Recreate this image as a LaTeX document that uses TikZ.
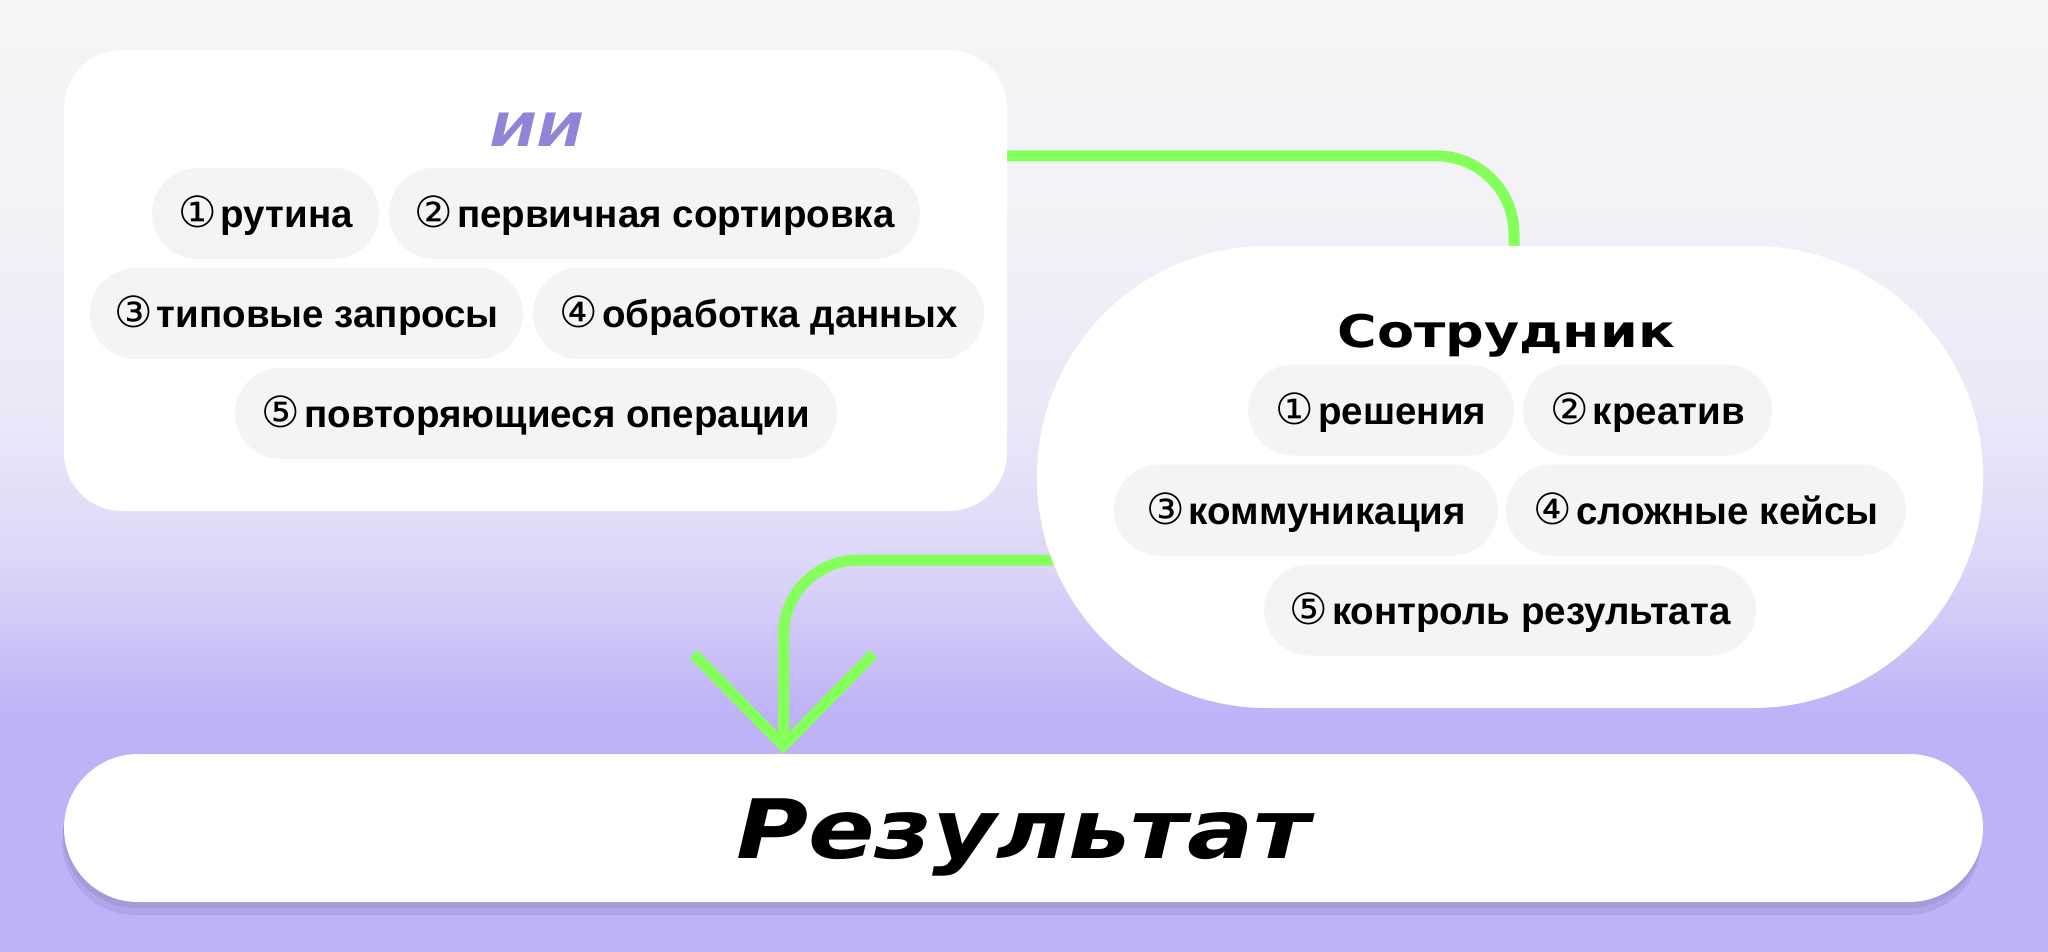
\documentclass[tikz,border=0pt]{standalone}
\usepackage{fontspec}
\usepackage{graphicx}
\setmainfont{Liberation Sans}
\newfontfamily\symfont{DejaVu Sans}
\newfontfamily\headfont{DejaVu Sans}
\usetikzlibrary{arrows.meta,shadows}
\definecolor{bgtop}{RGB}{245,245,247}
\definecolor{bgtopb}{RGB}{243,242,247}
\definecolor{bgpale}{RGB}{236,233,248}
\definecolor{bgmid}{RGB}{221,215,248}
\definecolor{bglav}{RGB}{190,179,247}
\definecolor{pillgray}{RGB}{244,244,246}
\definecolor{linkgreen}{RGB}{133,255,90}
\definecolor{aipurple}{RGB}{146,131,214}
\definecolor{shadowdark}{RGB}{166,155,217}
\definecolor{shadowlight}{RGB}{176,165,232}
\pgfdeclareverticalshading{bgfade}{100bp}{color(0bp)=(bglav); color(25bp)=(bglav); color(37.5bp)=(bglav); color(45.5bp)=(bgmid); color(54bp)=(bgpale); color(64.5bp)=(bgtopb); color(75bp)=(bgtop); color(100bp)=(bgtop)}
\pgfdeclarelayer{bg}
\pgfdeclarelayer{links}
\pgfsetlayers{bg,links,main}
\newcommand{\cn}[1]{{\symfont\mdseries\fontsize{43}{46}\selectfont #1}\kern4pt}
\newcommand{\wide}[1]{\scalebox{1.2}[1]{#1}}

\begin{document}
\begin{tikzpicture}[
  box/.style={fill=white, inner sep=0pt},
  pill/.style={rounded corners=45.5pt, fill=pillgray, minimum height=91pt, inner sep=0pt, text height=29pt, text depth=1pt, font=\fontsize{38.5}{46}\selectfont\bfseries},
  title/.style={anchor=base, inner sep=0pt},
  link/.style={draw=linkgreen, line width=11pt}
]
\useasboundingbox (0pt,0pt) rectangle (2048pt,-952pt);
\begin{pgfonlayer}{bg}
\shade [shading=bgfade] (0pt,0pt) rectangle (2048pt,-952pt);
\end{pgfonlayer}
\node (ai) [box, rounded corners=58pt, minimum width=943pt, minimum height=461pt] at (535.5pt, -280.5pt) {};
\node (emp) [box, rounded corners=230pt, minimum width=946pt, minimum height=462pt] at (1510pt, -477pt) {};
\node (res) [box, rounded corners=74pt, minimum width=1919pt, minimum height=148pt, text height=61pt, text depth=1pt, font=\headfont\bfseries\itshape\fontsize{82}{98}\selectfont, drop shadow={shadow xshift=-2pt, shadow yshift=-13pt, fill=shadowlight, opacity=1}, drop shadow={shadow xshift=-1pt, shadow yshift=-6pt, fill=shadowdark, opacity=1}] at (1023.5pt, -828pt) {\wide{Результат}};
\node (aititle) [title, text=aipurple, font=\headfont\bfseries\itshape\fontsize{46}{54}\selectfont] at (537pt, -147pt) {\wide{ИИ}};
\node (emptitle) [title, font=\headfont\bfseries\fontsize{45}{54}\selectfont] at (1506pt, -347pt) {\wide{Сотрудник}};
\node (ai1) [pill, minimum width=227pt] at (265.5pt, -213.5pt) {\cn{①}рутина};
\node (ai2) [pill, minimum width=531pt] at (654.5pt, -213.5pt) {\cn{②}первичная сортировка};
\node (ai3) [pill, minimum width=433pt] at (306.5pt, -313.5pt) {\cn{③}типовые запросы};
\node (ai4) [pill, minimum width=451pt] at (758.5pt, -313.5pt) {\cn{④}обработка данных};
\node (ai5) [pill, minimum width=602pt] at (536pt, -413.5pt) {\cn{⑤}повторяющиеся операции};
\node (emp1) [pill, minimum width=266pt] at (1381pt, -410pt) {\cn{①}решения};
\node (emp2) [pill, minimum width=249pt] at (1647.5pt, -410pt) {\cn{②}креатив};
\node (emp3) [pill, minimum width=384pt] at (1306pt, -510pt) {\cn{③}коммуникация};
\node (emp4) [pill, minimum width=400pt] at (1706pt, -510pt) {\cn{④}сложные кейсы};
\node (emp5) [pill, minimum width=492pt] at (1510pt, -610pt) {\cn{⑤}контроль результата};
\begin{pgfonlayer}{links}
\draw [link, rounded corners=78pt] ([yshift=-106pt]ai.north east) -| ([xshift=4pt]emp.north);
\draw [link, rounded corners=75pt, -{Straight Barb[length=92pt, width=180pt]}] ([shift={(40pt,-83pt)}]emp.west) -| ([xshift=-240pt]res.north);
\end{pgfonlayer}
\end{tikzpicture}
\end{document}
